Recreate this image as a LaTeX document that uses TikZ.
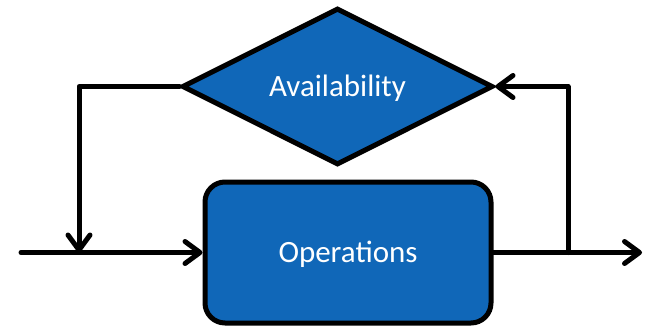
\documentclass[tikz,border=0pt]{standalone}
\usepackage{fontspec}
\setmainfont{Carlito}
\usepackage{tikz}
\usetikzlibrary{arrows.meta,shapes.geometric,positioning,calc}
\definecolor{opblue}{RGB}{16,103,184}

\begin{document}
\begin{tikzpicture}[x=1pt,y=-1pt,
  box/.style={draw,line width=5pt,fill=opblue,text=white,
              font=\fontsize{31}{36}\selectfont,inner sep=0pt,
              text height=20pt,text depth=0pt},
  flow/.style={line width=5pt,line cap=round,
               -{Straight Barb[length=15pt,width=22pt,round]}}]
 \useasboundingbox (0,0) rectangle (650,329);
 % blocks
 \node[box,diamond,minimum width=311pt,minimum height=155pt] (avail) at (337.5,86.5) {Availability};
 \node[box,rectangle,rounded corners=20pt,minimum width=286pt,minimum height=141pt] (ops) at (348,252.5) {Operations};
 % free ends and branch points
 \coordinate (in)  at (21,252.5);
 \coordinate (out) at (642,252.5);
 \coordinate (join) at (79,252.5);
 \coordinate (tap)  at (568,252.5);
 % main line
 \draw[flow] (in) -- (ops.west);
 \draw[flow] (ops.east) -- (out);
 % feedback loop
 \draw[flow,line join=round] (tap) |- (avail.east);
 \draw[flow,line join=round] (avail.west) -| (join);
\end{tikzpicture}
\end{document}
